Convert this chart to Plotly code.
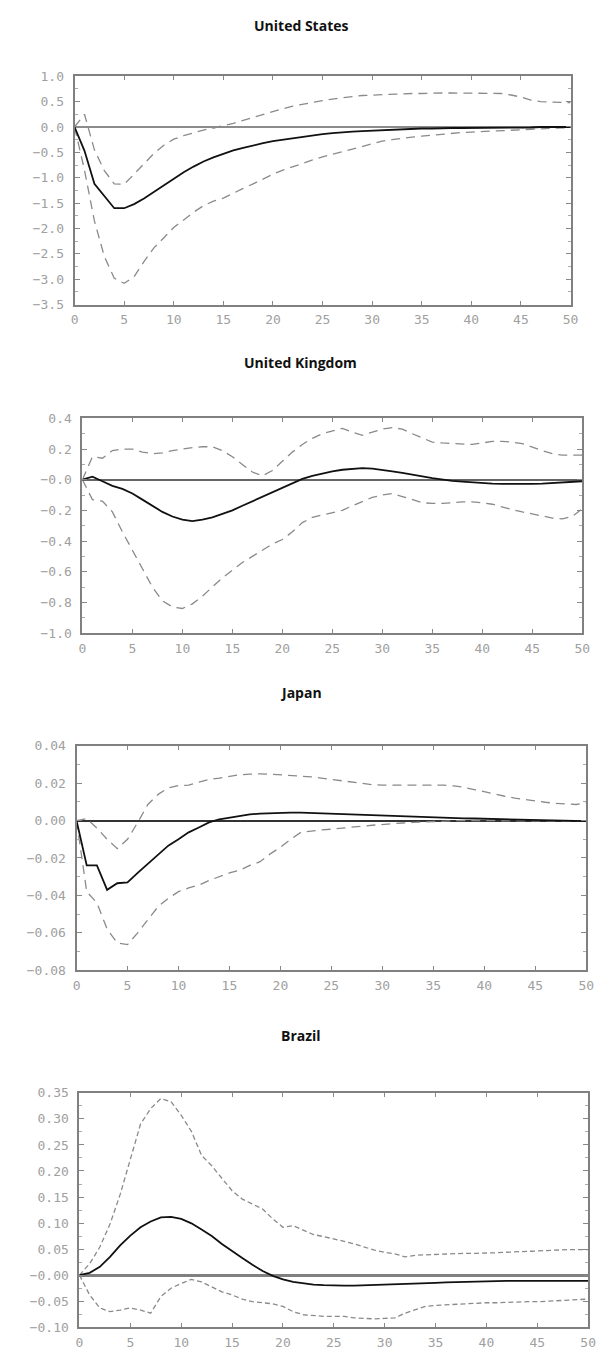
import plotly.graph_objects as go

countries = ["United States", "United Kingdom", "Japan", "Brazil"]

us_mid = [0, -0.47, -1.12, -1.35, -1.60, -1.60, -1.52, -1.41, -1.28, -1.14, -1.01, -0.89, -0.78, -0.68, -0.60, -0.53, -0.46, -0.41, -0.36, -0.32, -0.28, -0.25, -0.22, -0.19, -0.16, -0.14, -0.12, -0.10, -0.09, -0.08, -0.07, -0.06, -0.05, -0.04, -0.04, -0.03, -0.03, -0.02, -0.02, -0.02, -0.02, -0.01, -0.01, -0.01, -0.01, -0.01, -0.01, 0.0, 0.0, 0.0, 0.0]
us_up = [0.0, 0.25, -0.45, -0.86, -1.12, -1.13, -0.93, -0.72, -0.52, -0.36, -0.24, -0.17, -0.11, -0.06, -0.02, 0.02, 0.07, 0.13, 0.19, 0.25, 0.31, 0.36, 0.41, 0.45, 0.49, 0.52, 0.55, 0.58, 0.60, 0.62, 0.63, 0.64, 0.65, 0.65, 0.66, 0.66, 0.67, 0.67, 0.67, 0.67, 0.67, 0.67, 0.67, 0.66, 0.63, 0.59, 0.53, 0.50, 0.49, 0.48, 0.48]
us_lo = [0.0, -0.85, -1.85, -2.55, -2.98, -3.08, -2.95, -2.65, -2.38, -2.17, -1.98, -1.83, -1.68, -1.55, -1.46, -1.40, -1.30, -1.21, -1.12, -1.02, -0.93, -0.85, -0.78, -0.71, -0.65, -0.59, -0.54, -0.48, -0.43, -0.38, -0.33, -0.28, -0.25, -0.22, -0.20, -0.18, -0.16, -0.14, -0.12, -0.11, -0.10, -0.09, -0.08, -0.07, -0.06, -0.05, -0.04, -0.03, -0.02, -0.02, -0.01]

uk_mid = [0.0, 0.02, -0.01, -0.04, -0.06, -0.09, -0.13, -0.17, -0.21, -0.24, -0.26, -0.27, -0.26, -0.245, -0.225, -0.20, -0.17, -0.14, -0.11, -0.08, -0.05, -0.02, 0.005, 0.025, 0.04, 0.055, 0.065, 0.072, 0.075, 0.072, 0.065, 0.055, 0.045, 0.035, 0.022, 0.01, 0.0, -0.008, -0.013, -0.018, -0.022, -0.025, -0.027, -0.028, -0.028, -0.027, -0.025, -0.022, -0.018, -0.014, -0.01]
uk_up = [0.0, 0.15, 0.14, 0.19, 0.20, 0.20, 0.18, 0.17, 0.175, 0.19, 0.20, 0.21, 0.215, 0.215, 0.19, 0.15, 0.10, 0.05, 0.025, 0.06, 0.12, 0.18, 0.23, 0.27, 0.30, 0.32, 0.335, 0.31, 0.29, 0.31, 0.33, 0.34, 0.33, 0.30, 0.27, 0.245, 0.24, 0.235, 0.232, 0.23, 0.24, 0.25, 0.25, 0.245, 0.235, 0.21, 0.19, 0.17, 0.16, 0.16, 0.16]
uk_lo = [0.0, -0.13, -0.14, -0.21, -0.34, -0.46, -0.59, -0.70, -0.79, -0.83, -0.84, -0.81, -0.76, -0.70, -0.64, -0.59, -0.54, -0.50, -0.46, -0.42, -0.39, -0.34, -0.28, -0.245, -0.23, -0.215, -0.20, -0.17, -0.14, -0.115, -0.10, -0.09, -0.11, -0.13, -0.15, -0.155, -0.155, -0.15, -0.145, -0.145, -0.15, -0.16, -0.18, -0.195, -0.21, -0.225, -0.24, -0.25, -0.255, -0.24, -0.19]

jp_mid = [0, -0.024, -0.024, -0.037, -0.0335, -0.033, -0.028, -0.023, -0.018, -0.0134, -0.010, -0.0063, -0.0037, -0.001, 0.0007, 0.0016, 0.0028, 0.0033, 0.0037, 0.004, 0.0042, 0.0042, 0.0042, 0.004, 0.0038, 0.0037, 0.0035, 0.0033, 0.003, 0.0028, 0.0025, 0.0023, 0.0021, 0.0019, 0.0017, 0.0016, 0.0015, 0.0013, 0.0012, 0.0011, 0.001, 0.0009, 0.0008, 0.0007, 0.0006, 0.0005, 0.0004, 0.0002, 0.0, -0.0002, -0.0003]
jp_up = [0, 0.001, -0.004, -0.010, -0.015, -0.010, -0.001, 0.0086, 0.014, 0.0175, 0.0187, 0.019, 0.0206, 0.022, 0.0227, 0.0236, 0.0245, 0.0248, 0.025, 0.0248, 0.0245, 0.0243, 0.024, 0.0234, 0.0227, 0.022, 0.021, 0.0203, 0.0196, 0.0192, 0.019, 0.019, 0.019, 0.019, 0.019, 0.019, 0.019, 0.0185, 0.0178, 0.0166, 0.0153, 0.014, 0.013, 0.012, 0.0112, 0.0104, 0.0098, 0.0092, 0.0088, 0.0086, 0.0095]
jp_lo = [0, -0.038, -0.044, -0.058, -0.0654, -0.0663, -0.060, -0.053, -0.046, -0.0416, -0.038, -0.036, -0.0345, -0.032, -0.030, -0.028, -0.0266, -0.024, -0.022, -0.0178, -0.0143, -0.010, -0.0063, -0.0055, -0.005, -0.0046, -0.0042, -0.0037, -0.003, -0.0025, -0.002, -0.0017, -0.0013, -0.001, -0.0007, -0.0004, -0.0002, -0.0001, 0.0, 0.0, 0.0, 0.0, 0.0, 0.0, 0.0, 0.0, 0.0, -0.0001, -0.0001, -0.0002, -0.0003]

br_mid = [0, 0.0044, 0.016, 0.035, 0.057, 0.076, 0.092, 0.103, 0.111, 0.112, 0.108, 0.0995, 0.0875, 0.075, 0.060, 0.046, 0.033, 0.020, 0.008, -0.0013, -0.008, -0.013, -0.016, -0.018, -0.019, -0.020, -0.020, -0.020, -0.0195, -0.019, -0.018, -0.0175, -0.017, -0.016, -0.0155, -0.015, -0.014, -0.0135, -0.013, -0.012, -0.011, -0.011, -0.011, -0.011, -0.011, -0.011, -0.011, -0.011, -0.011, -0.011, -0.011]
br_up = [0, 0.022, 0.054, 0.098, 0.155, 0.225, 0.290, 0.320, 0.339, 0.333, 0.307, 0.276, 0.230, 0.210, 0.187, 0.162, 0.146, 0.136, 0.127, 0.108, 0.092, 0.095, 0.086, 0.078, 0.074, 0.070, 0.065, 0.060, 0.054, 0.048, 0.044, 0.041, 0.035, 0.038, 0.039, 0.040, 0.041, 0.041, 0.042, 0.042, 0.042, 0.043, 0.044, 0.045, 0.046, 0.047, 0.048, 0.048, 0.049, 0.049, 0.049]
br_lo = [0, -0.038, -0.063, -0.070, -0.067, -0.063, -0.067, -0.073, -0.041, -0.025, -0.016, -0.008, -0.013, -0.022, -0.032, -0.038, -0.046, -0.051, -0.053, -0.055, -0.060, -0.070, -0.076, -0.078, -0.079, -0.079, -0.079, -0.082, -0.083, -0.084, -0.083, -0.082, -0.073, -0.066, -0.060, -0.058, -0.057, -0.055, -0.054, -0.053, -0.053, -0.053, -0.052, -0.052, -0.051, -0.051, -0.050, -0.049, -0.048, -0.047, -0.046]

x_ticks = [0, 5, 10, 15, 20, 25, 30, 35, 40, 45, 50]
x_ticklabels = ["0", "5", "10", "15", "20", "25", "30", "35", "40", "45", "50"]

us_yticks = [1.0, 0.5, 0.0, -0.5, -1.0, -1.5, -2.0, -2.5, -3.0, -3.5]
us_ylabels = ["1.0", "0.5", "0.0", "−0.5", "−1.0", "−1.5", "−2.0", "−2.5", "−3.0", "−3.5"]
uk_yticks = [0.4, 0.2, 0.0, -0.2, -0.4, -0.6, -0.8, -1.0]
uk_ylabels = ["0.4", "0.2", "−0.0", "−0.2", "−0.4", "−0.6", "−0.8", "−1.0"]
jp_yticks = [0.04, 0.02, 0.0, -0.02, -0.04, -0.06, -0.08]
jp_ylabels = ["0.04", "0.02", "0.00", "−0.02", "−0.04", "−0.06", "−0.08"]
br_yticks = [0.35, 0.30, 0.25, 0.20, 0.15, 0.10, 0.05, 0.0, -0.05, -0.10]
br_ylabels = ["0.35", "0.30", "0.25", "0.20", "0.15", "0.10", "0.05", "−0.00", "−0.05", "−0.10"]

W, H = 605, 1357
panels = [
    dict(name=countries[0], mid=us_mid, up=us_up, lo=us_lo, yt=us_yticks, yl=us_ylabels,
         yr=[-3.5, 1.0], box=(72, 578, 70, 301), ty=19, dash="9px,6px", minor=0.25,
         zc="#8c8c8c", zw=2.2),
    dict(name=countries[1], mid=uk_mid, up=uk_up, lo=uk_lo, yt=uk_yticks, yl=uk_ylabels,
         yr=[-1.0, 0.4], box=(80, 590, 416, 633), ty=359, dash="9px,6px", minor=0.1,
         zc="#666666", zw=1.5),
    dict(name=countries[2], mid=jp_mid, up=jp_up, lo=jp_lo, yt=jp_yticks, yl=jp_ylabels,
         yr=[-0.08, 0.04], box=(74, 594, 747, 974), ty=693, dash="9px,6px", minor=0.01,
         zc="#333333", zw=1.5),
    dict(name=countries[3], mid=br_mid, up=br_up, lo=br_lo, yt=br_yticks, yl=br_ylabels,
         yr=[-0.10, 0.35], box=(77, 596, 1098, 1335), ty=1040, dash="5px,3px", minor=0.025,
         zc="#808080", zw=2.5),
]

fig = go.Figure()
tickfont = dict(family="DejaVu Sans Mono", size=13, color="#a0a0a0")
annotations = []
for i, p in enumerate(panels, start=1):
    xa = "x" if i == 1 else f"x{i}"
    ya = "y" if i == 1 else f"y{i}"
    for key, color, width, dash in [("up", "#8a8a8a", 1.3, p["dash"]),
                                    ("lo", "#8a8a8a", 1.3, p["dash"]),
                                    ("mid", "#111111", 1.8, "solid")]:
        ys = p[key]
        fig.add_trace(go.Scatter(x=list(range(len(ys))), y=ys, mode="lines",
                                 line=dict(color=color, width=width, dash=dash),
                                 xaxis=xa, yaxis=ya, showlegend=False, hoverinfo="skip"))
    l, r, t, b = p["box"]
    axx = dict(domain=[l / W, r / W], range=[0, 50], anchor=ya,
               tickvals=x_ticks, ticktext=x_ticklabels, ticks="inside", ticklen=4,
               tickcolor="#888", tickwidth=1, mirror="ticks", showline=True,
               linecolor="#808080", linewidth=2, showgrid=False, zeroline=False,
               tickfont=tickfont, ticklabelstandoff=2)
    axy = dict(domain=[1 - b / H, 1 - t / H], range=p["yr"], anchor=xa,
               tickvals=p["yt"], ticktext=p["yl"], ticks="inside", ticklen=5,
               tickcolor="#888", tickwidth=1, mirror="ticks", showline=True,
               linecolor="#808080", linewidth=2, showgrid=False,
               zeroline=True, zerolinecolor=p["zc"], zerolinewidth=p["zw"],
               minor=dict(ticks="inside", ticklen=3, dtick=p["minor"], tick0=0, tickcolor="#aaa"),
               tickfont=tickfont, ticklabelstandoff=6)
    fig.layout[f"xaxis{'' if i == 1 else i}"] = axx
    fig.layout[f"yaxis{'' if i == 1 else i}"] = axy
    annotations.append(dict(text=f"<b>{p['name']}</b>", x=0.5, y=1 - p["ty"] / H,
                            xref="paper", yref="paper", showarrow=False,
                            xanchor="center", yanchor="middle",
                            font=dict(family="Open Sans", size=14, color="#111")))

fig.update_layout(width=W, height=H, margin=dict(l=0, r=0, t=0, b=0),
                  paper_bgcolor="white", plot_bgcolor="white",
                  annotations=annotations, showlegend=False)
fig.write_html("out.html")
